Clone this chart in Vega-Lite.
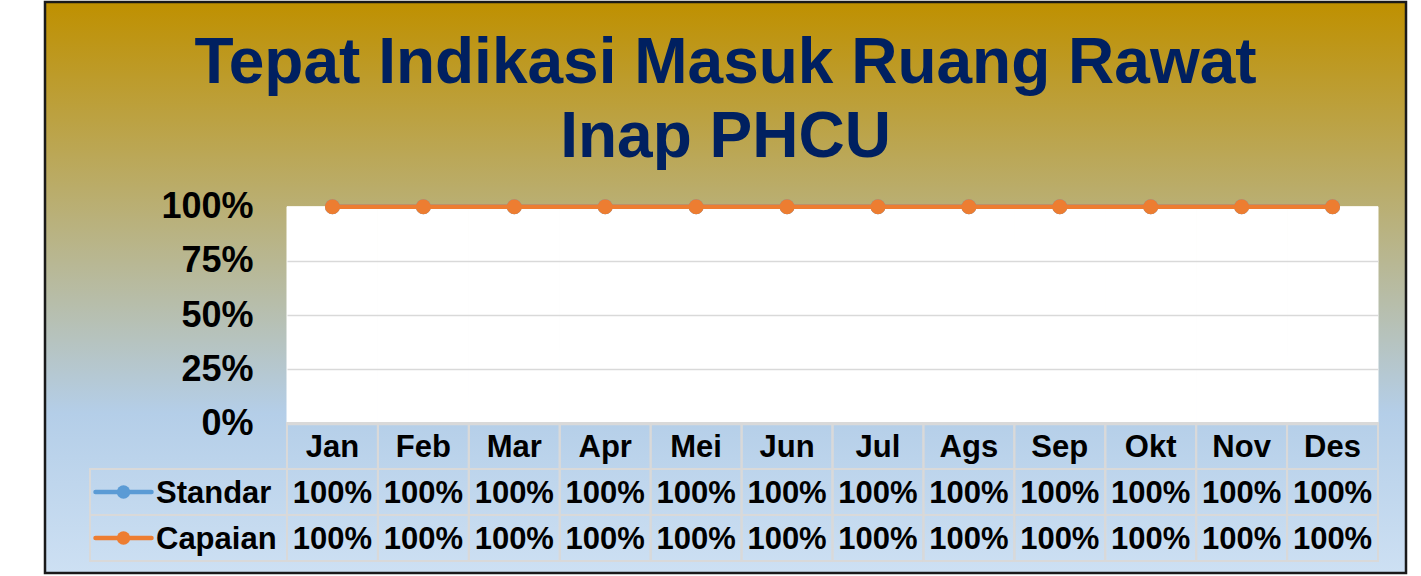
{
  "$schema": "https://vega.github.io/schema/vega-lite/v6.json",
  "width": 1361,
  "height": 571,
  "autosize": "none",
  "padding": {"left": 45, "top": 2, "right": 15, "bottom": 3},
  "background": "#ffffff",
  "view": {
    "fill": {"gradient": "linear", "x1": 0, "y1": 0, "x2": 0, "y2": 1,
      "stops": [{"offset": 0, "color": "#BF9000"}, {"offset": 0.72, "color": "#B4CEE8"}, {"offset": 1, "color": "#CDE0F3"}]},
    "stroke": "#1a1a1a",
    "strokeWidth": 2.5
  },
  "title": {
    "text": ["Tepat Indikasi Masuk Ruang Rawat", "Inap PHCU"],
    "font": "Liberation Sans",
    "fontSize": 64,
    "fontWeight": "bold",
    "color": "#002060",
    "anchor": "middle",
    "frame": "group",
    "baseline": "alphabetic",
    "lineHeight": 74,
    "offset": -219
  },
  "config": {"font": "Liberation Sans"},
  "data": {"values": [
    {"bulan": "Jan", "seri": "Standar", "nilai": 1}, {"bulan": "Jan", "seri": "Capaian", "nilai": 1},
    {"bulan": "Feb", "seri": "Standar", "nilai": 1}, {"bulan": "Feb", "seri": "Capaian", "nilai": 1},
    {"bulan": "Mar", "seri": "Standar", "nilai": 1}, {"bulan": "Mar", "seri": "Capaian", "nilai": 1},
    {"bulan": "Apr", "seri": "Standar", "nilai": 1}, {"bulan": "Apr", "seri": "Capaian", "nilai": 1},
    {"bulan": "Mei", "seri": "Standar", "nilai": 1}, {"bulan": "Mei", "seri": "Capaian", "nilai": 1},
    {"bulan": "Jun", "seri": "Standar", "nilai": 1}, {"bulan": "Jun", "seri": "Capaian", "nilai": 1},
    {"bulan": "Jul", "seri": "Standar", "nilai": 1}, {"bulan": "Jul", "seri": "Capaian", "nilai": 1},
    {"bulan": "Ags", "seri": "Standar", "nilai": 1}, {"bulan": "Ags", "seri": "Capaian", "nilai": 1},
    {"bulan": "Sep", "seri": "Standar", "nilai": 1}, {"bulan": "Sep", "seri": "Capaian", "nilai": 1},
    {"bulan": "Okt", "seri": "Standar", "nilai": 1}, {"bulan": "Okt", "seri": "Capaian", "nilai": 1},
    {"bulan": "Nov", "seri": "Standar", "nilai": 1}, {"bulan": "Nov", "seri": "Capaian", "nilai": 1},
    {"bulan": "Des", "seri": "Standar", "nilai": 1}, {"bulan": "Des", "seri": "Capaian", "nilai": 1}
  ]},
  "resolve": {"scale": {"x": "independent", "y": "independent"}},
  "layer": [
    {
      "layer": [
        {
          "transform": [{"filter": "datum.seri === 'Standar'"}],
          "mark": {"type": "rect", "fill": "#ffffff", "stroke": "#ffffff", "strokeWidth": 1},
          "encoding": {
            "x": {"field": "bulan", "type": "ordinal", "scale": {"type": "band", "domain": ["Jan","Feb","Mar","Apr","Mei","Jun","Jul","Ags","Sep","Okt","Nov","Des"], "range": [242, 1333], "paddingInner": 0, "paddingOuter": 0}, "axis": null},
            "y": {"datum": 0, "type": "quantitative",
              "scale": {"domain": [0, 1], "range": [421.5, 204.7], "nice": false, "zero": true},
              "axis": {
                "orient": "left", "offset": -242, "domain": false, "ticks": false, "title": null,
                "values": [0, 0.25, 0.5, 0.75, 1], "format": ".0%",
                "labelFont": "Liberation Sans", "labelFontSize": 36, "labelFontWeight": "bold", "labelColor": "#000000",
                "labelPadding": 34, "labelOverlap": false,
                "grid": true, "gridColor": "#D9D9D9", "gridWidth": 1.5,
                "gridOpacity": {"condition": {"test": "datum.value === 1", "value": 0}, "value": 1},
                "zindex": 1
              }
            },
            "y2": {"datum": 1}
          }
        },
        {
          "transform": [{"filter": "datum.seri === 'Standar'"}],
          "mark": {"type": "line", "strokeWidth": 4.5, "point": {"filled": true, "size": 225, "opacity": 1}},
          "encoding": {
            "x": {"field": "bulan", "type": "ordinal"},
            "y": {"field": "nilai", "type": "quantitative"},
            "color": {"field": "seri", "type": "nominal", "scale": {"domain": ["Standar", "Capaian"], "range": ["#5B9BD5", "#ED7D31"]}, "legend": null}
          }
        },
        {
          "transform": [{"filter": "datum.seri === 'Capaian'"}],
          "mark": {"type": "line", "strokeWidth": 4.5, "point": {"filled": true, "size": 225, "opacity": 1}},
          "encoding": {
            "x": {"field": "bulan", "type": "ordinal"},
            "y": {"field": "nilai", "type": "quantitative"},
            "color": {"field": "seri", "type": "nominal", "legend": null}
          }
        }
      ]
    },
    {
      "layer": [
        {
          "mark": {"type": "rect", "filled": false, "stroke": "#D9D9D9", "strokeWidth": 2},
          "encoding": {
            "x": {"field": "bulan", "type": "ordinal", "scale": {"type": "band", "domain": ["Jan","Feb","Mar","Apr","Mei","Jun","Jul","Ags","Sep","Okt","Nov","Des"], "range": [242, 1333], "paddingInner": 0, "paddingOuter": 0}, "axis": null},
            "y": {"field": "seri", "type": "nominal", "scale": {"type": "band", "domain": ["Bulan", "Standar", "Capaian"], "range": [421, 559], "paddingInner": 0, "paddingOuter": 0}, "axis": null}
          }
        },
        {
          "transform": [{"filter": "datum.seri === 'Standar'"}],
          "mark": {"type": "rect", "filled": false, "stroke": "#D9D9D9", "strokeWidth": 2},
          "encoding": {
            "x": {"field": "bulan", "type": "ordinal"},
            "y": {"datum": "Bulan", "type": "nominal"}
          }
        },
        {
          "transform": [{"filter": "datum.seri === 'Standar'"}],
          "mark": {"type": "text", "font": "Liberation Sans", "fontSize": 31, "fontWeight": "bold", "color": "#000000", "baseline": "middle", "dy": 2},
          "encoding": {
            "x": {"field": "bulan", "type": "ordinal"},
            "y": {"datum": "Bulan", "type": "nominal"},
            "text": {"field": "bulan"}
          }
        },
        {
          "mark": {"type": "text", "font": "Liberation Sans", "fontSize": 31, "fontWeight": "bold", "color": "#000000", "baseline": "middle", "dy": 2},
          "encoding": {
            "x": {"field": "bulan", "type": "ordinal"},
            "y": {"field": "seri", "type": "nominal"},
            "text": {"field": "nilai", "type": "quantitative", "format": ".0%"}
          }
        }
      ]
    },
    {
      "transform": [{"filter": "datum.bulan === 'Jan'"}],
      "layer": [
        {
          "mark": {"type": "rect", "filled": false, "stroke": "#D9D9D9", "strokeWidth": 2},
          "encoding": {
            "x": {"datum": "Legenda", "type": "nominal", "scale": {"type": "band", "domain": ["Legenda"], "range": [45, 242], "paddingInner": 0, "paddingOuter": 0}, "axis": null},
            "y": {"field": "seri", "type": "nominal", "scale": {"type": "band", "domain": ["Bulan", "Standar", "Capaian"], "range": [421, 559], "paddingInner": 0, "paddingOuter": 0}, "axis": null}
          }
        },
        {
          "mark": {"type": "point", "shape": "stroke", "filled": false, "size": 3136, "strokeWidth": 4.5, "strokeCap": "round", "opacity": 1},
          "encoding": {
            "x": {"datum": "Legenda", "type": "nominal", "bandPosition": 0.17},
            "y": {"field": "seri", "type": "nominal"},
            "color": {"field": "seri", "type": "nominal", "legend": null}
          }
        },
        {
          "mark": {"type": "point", "shape": "circle", "filled": true, "size": 180, "opacity": 1},
          "encoding": {
            "x": {"datum": "Legenda", "type": "nominal", "bandPosition": 0.17},
            "y": {"field": "seri", "type": "nominal"},
            "color": {"field": "seri", "type": "nominal", "legend": null}
          }
        },
        {
          "mark": {"type": "text", "font": "Liberation Sans", "fontSize": 31, "fontWeight": "bold", "color": "#000000", "align": "left", "baseline": "middle", "dy": 2},
          "encoding": {
            "x": {"datum": "Legenda", "type": "nominal", "bandPosition": 0.335},
            "y": {"field": "seri", "type": "nominal"},
            "text": {"field": "seri"}
          }
        }
      ]
    }
  ]
}
